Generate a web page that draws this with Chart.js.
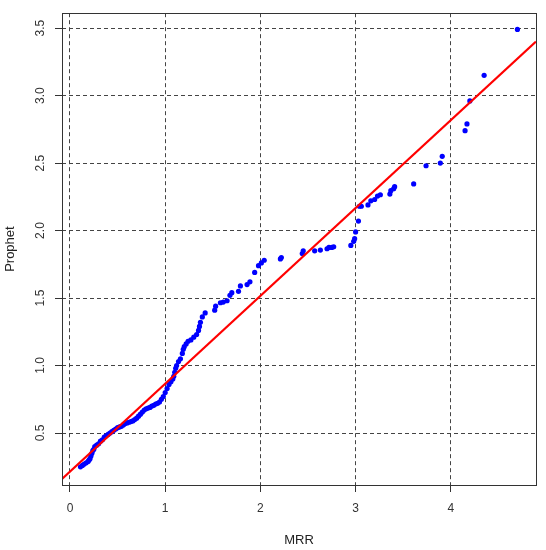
<!DOCTYPE html>
<html><head><meta charset="utf-8">
<script src="https://cdn.jsdelivr.net/npm/chart.js@4"></script>
<style>html,body{margin:0;padding:0;background:#fff;}</style>
</head><body>
<canvas id="c" width="546" height="550"></canvas>
<script>
// Sorted quantiles
const mrr = [0.11,0.13,0.15,0.17,0.19,0.20,0.21,0.22,0.23,0.24,0.25,0.26,0.28,0.30,0.32,0.34,0.36,0.38,0.40,0.42,0.44,0.46,0.48,0.50,0.52,0.54,0.56,0.58,0.60,0.62,0.64,0.66,0.68,0.70,0.72,0.74,0.76,0.78,0.80,0.82,0.84,0.86,0.88,0.90,0.92,0.94,0.96,0.98,1.00,1.02,1.04,1.06,1.08,1.09,1.10,1.11,1.12,1.14,1.16,1.18,1.19,1.20,1.22,1.24,1.27,1.30,1.33,1.35,1.36,1.37,1.39,1.42,1.52,1.53,1.58,1.61,1.65,1.68,1.70,1.77,1.79,1.86,1.89,1.94,1.98,2.01,2.04,2.21,2.22,2.44,2.45,2.57,2.63,2.70,2.72,2.75,2.77,2.95,2.98,2.99,3.00,3.03,3.04,3.06,3.13,3.16,3.20,3.23,3.26,3.36,3.37,3.40,3.41,3.61,3.74,3.89,3.91,4.15,4.17,4.20,4.35,4.70];
const prophet = [0.25,0.26,0.27,0.28,0.29,0.30,0.31,0.33,0.35,0.37,0.38,0.40,0.41,0.42,0.44,0.45,0.47,0.48,0.49,0.50,0.51,0.52,0.53,0.54,0.545,0.55,0.56,0.57,0.575,0.58,0.585,0.59,0.60,0.61,0.625,0.64,0.655,0.67,0.68,0.685,0.69,0.70,0.705,0.715,0.72,0.73,0.75,0.77,0.80,0.83,0.86,0.88,0.90,0.92,0.95,0.98,1.00,1.03,1.05,1.09,1.12,1.14,1.16,1.18,1.19,1.21,1.23,1.26,1.29,1.32,1.36,1.39,1.41,1.44,1.465,1.47,1.48,1.52,1.54,1.55,1.59,1.60,1.62,1.69,1.74,1.76,1.78,1.79,1.80,1.83,1.85,1.85,1.855,1.865,1.875,1.875,1.88,1.89,1.92,1.94,1.99,2.07,2.18,2.18,2.19,2.22,2.23,2.255,2.265,2.27,2.295,2.31,2.325,2.345,2.48,2.50,2.55,2.74,2.79,2.96,3.15,3.49];
const xTicks = [0, 1, 2, 3, 4];
const yTicks = [0.5, 1.0, 1.5, 2.0, 2.5, 3.0, 3.5];
const xRange = [-0.084, 4.895];
const yRange = [0.115, 3.61];
const fitLine = [0.214, 0.651]; // intercept, slope

const points = mrr.map((x, i) => ({x: x, y: prophet[i]}));
const linePts = xRange.map(x => ({x: x, y: fitLine[0] + fitLine[1] * x}));

const FONT = 'Liberation Sans, Arial, sans-serif';

const boxPlugin = {
  id: 'box',
  afterDraw(chart) {
    const a = chart.chartArea, ctx = chart.ctx;
    ctx.save();
    ctx.strokeStyle = '#333';
    ctx.lineWidth = 1;
    ctx.setLineDash([]);
    ctx.strokeRect(Math.round(a.left) + 0.5, Math.round(a.top) + 0.5, Math.round(a.right - a.left), Math.round(a.bottom - a.top));
    ctx.restore();
  }
};

new Chart(document.getElementById('c'), {
  data: {
    datasets: [
      {type: 'line', data: linePts, borderColor: '#ff0000', borderWidth: 2.2, pointRadius: 0, fill: false, order: 0},
      {type: 'scatter', data: points, backgroundColor: '#0000ff', borderColor: '#0000ff', borderWidth: 0, pointRadius: 2.6, order: 1}
    ]
  },
  options: {
    responsive: false,
    animation: false,
    devicePixelRatio: 1,
    layout: {padding: {left: 0, top: 13, right: 10, bottom: 0}},
    plugins: {legend: {display: false}, tooltip: {enabled: false}},
    scales: {
      x: {
        type: 'linear', min: xRange[0], max: xRange[1],
        afterBuildTicks: s => { s.ticks = xTicks.map(v => ({value: v})); },
        afterFit: s => { s.height = 65; },
        border: {display: false, dash: [4, 3]},
        grid: {color: '#444', lineWidth: 1, tickLength: 7, tickColor: '#333', tickBorderDash: [], drawTicks: true},
        ticks: {color: '#333', font: {family: FONT, size: 12}, padding: 9, maxRotation: 0, callback: v => String(v)},
        title: {display: true, text: 'MRR', color: '#222', font: {family: FONT, size: 13}, padding: {top: 0, bottom: 2}}
      },
      y: {
        type: 'linear', min: yRange[0], max: yRange[1],
        afterBuildTicks: s => { s.ticks = yTicks.map(v => ({value: v})); },
        afterFit: s => { s.width = 62; },
        border: {display: false, dash: [4, 3]},
        grid: {color: '#444', lineWidth: 1, tickLength: 7, tickColor: '#333', tickBorderDash: [], drawTicks: true},
        ticks: {color: '#333', font: {family: FONT, size: 12}, padding: 6, minRotation: 90, maxRotation: 90, crossAlign: 'center', callback: v => v.toFixed(1)},
        title: {display: true, text: 'Prophet', color: '#222', font: {family: FONT, size: 13}, padding: {top: 3, bottom: 0}}
      }
    }
  },
  plugins: [boxPlugin]
});
</script>
</body></html>
